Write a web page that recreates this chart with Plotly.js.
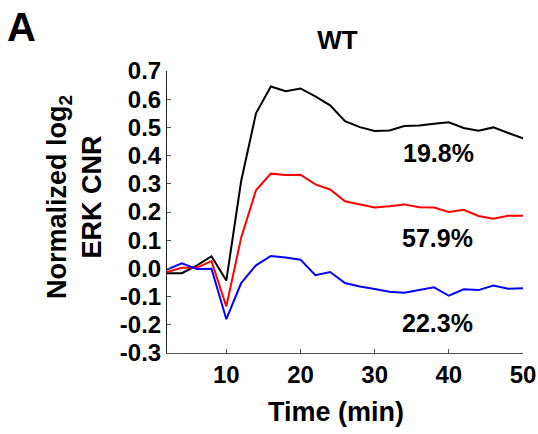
<!DOCTYPE html>
<html><head><meta charset="utf-8">
<script src="https://cdn.plot.ly/plotly-3.0.1.min.js"></script>
<style>html,body{margin:0;padding:0;background:#fff}#chart{width:538px;height:434px}</style>
</head><body><div id="chart"></div>
<script>
const time = [2,4,6,8,10,12,14,16,18,20,22,24,26,28,30,32,34,36,38,40,42,44,46,48,50];
const blackSeries = [-0.017,-0.017,0.010,0.043,-0.043,0.310,0.550,0.645,0.628,0.638,0.610,0.578,0.522,0.501,0.487,0.489,0.505,0.507,0.513,0.518,0.498,0.488,0.500,0.480,0.461];
const redSeries = [-0.013,0.002,0.002,0.026,-0.135,0.109,0.277,0.336,0.331,0.332,0.298,0.280,0.238,0.227,0.216,0.220,0.227,0.217,0.216,0.200,0.208,0.186,0.176,0.187,0.187];
const blueSeries = [-0.004,0.018,-0.002,-0.001,-0.180,-0.052,0.011,0.044,0.039,0.031,-0.024,-0.013,-0.052,-0.064,-0.073,-0.083,-0.086,-0.077,-0.067,-0.097,-0.074,-0.077,-0.061,-0.072,-0.070];
const percentLabels = ['19.8%','57.9%','22.3%'];
const yTicks = [-0.3,-0.2,-0.1,0,0.1,0.2,0.3,0.4,0.5,0.6,0.7];
const yTickText = ['-0.3','-0.2','-0.1','0.0','0.1','0.2','0.3','0.4','0.5','0.6','0.7'];
const xTicks = [10,20,30,40,50];

const F = 'Liberation Sans, Arial, Helvetica, sans-serif';
const mk = (y, c) => ({x: time, y: y, type: 'scatter', mode: 'lines', line: {color: c, width: 2}, hoverinfo: 'skip', showlegend: false});
const data = [mk(blackSeries, '#000000'), mk(redSeries, '#ff0000'), mk(blueSeries, '#0000ff')];

const W = 538, H = 434, L = 167, R = 15, T = 71, B = 81;
const pw = W - L - R, ph = H - T - B;
const px = v => (v - L) / pw;      // pixel x -> paper x
const py = v => 1 - (v - T) / ph;  // pixel y -> paper y

const annFont = {family: F, size: 25, color: '#000', weight: 'bold'};
const ann = (text, x, y, font, extra) => Object.assign({text, x: px(x), y: py(y), xref: 'paper', yref: 'paper', xanchor: 'center', yanchor: 'middle', showarrow: false, font}, extra || {});
const layout = {
  width: W, height: H,
  margin: {l: L, r: R, t: T, b: B},
  paper_bgcolor: '#fff', plot_bgcolor: '#fff',
  font: {family: F, color: '#000'},
  title: {text: 'WT', font: {family: F, size: 26, color: '#000', weight: 'bold'}, x: 337.5 / W, xanchor: 'center', xref: 'container', y: 1 - 40 / H, yanchor: 'middle', yref: 'container'},
  xaxis: {range: [2, 50], tickvals: xTicks, ticks: 'inside', ticklen: 4, tickcolor: '#555', showline: true, linecolor: '#555', linewidth: 1, showgrid: false, zeroline: false, tickfont: {family: F, size: 24, color: '#000', weight: 'bold'}, fixedrange: true},
  yaxis: {range: [-0.3, 0.7], tickvals: yTicks, ticktext: yTickText, ticks: 'inside', ticklen: 4, tickcolor: '#555', showline: true, linecolor: '#222', linewidth: 1, showgrid: false, zeroline: false, tickfont: {family: F, size: 24, color: '#000', weight: 'bold'}, fixedrange: true},
  annotations: [
    {text: percentLabels[0], x: 38.6, y: 0.41, xref: 'x', yref: 'y', xanchor: 'center', yanchor: 'middle', showarrow: false, font: annFont},
    {text: percentLabels[1], x: 38.5, y: 0.107, xref: 'x', yref: 'y', xanchor: 'center', yanchor: 'middle', showarrow: false, font: annFont},
    {text: percentLabels[2], x: 38.5, y: -0.193, xref: 'x', yref: 'y', xanchor: 'center', yanchor: 'middle', showarrow: false, font: annFont},
    ann('Time (min)', 335.5, 412, {family: F, size: 27, color: '#000', weight: 'bold'}),
    ann('Normalized log<sub>2</sub><br>ERK CNR', 74, 197, {family: F, size: 27, color: '#000', weight: 'bold'}, {textangle: -90}),
    ann('A', 21, 27, {family: F, size: 40, color: '#000', weight: 'bold'})
  ]
};
Plotly.newPlot('chart', data, layout, {staticPlot: true, displayModeBar: false});
</script></body></html>
